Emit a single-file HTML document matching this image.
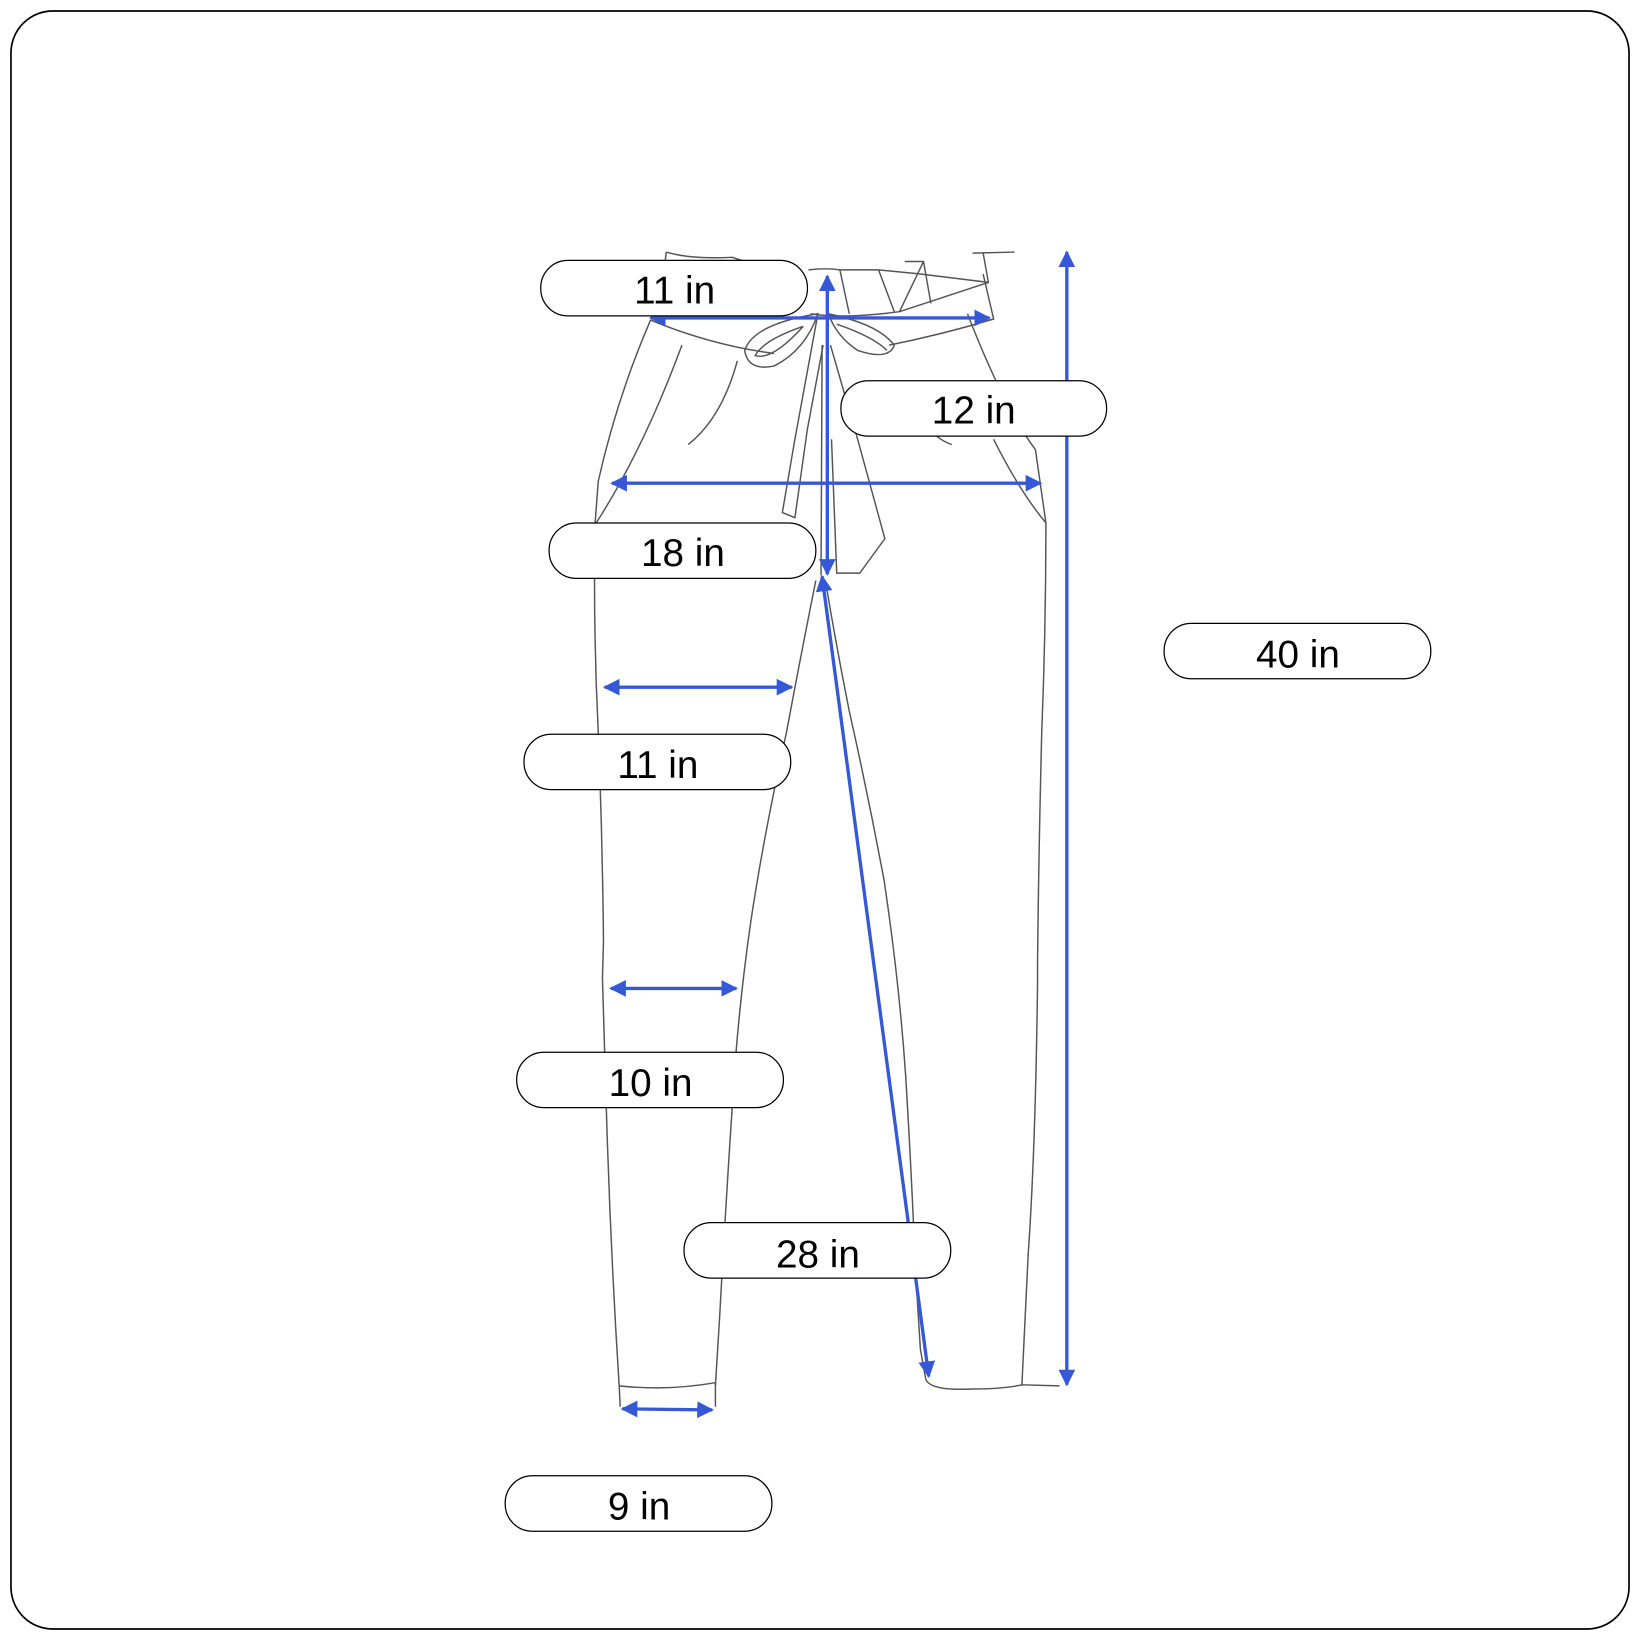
<!DOCTYPE html>
<html><head><meta charset="utf-8"><style>
html,body{margin:0;padding:0;background:#fff;}
svg{display:block;}
text{font-family:"Liberation Sans",sans-serif;font-size:37px;fill:#000;text-anchor:middle;}
</style></head><body>
<svg width="1640" height="1640" viewBox="0 0 1568 1568" xmlns="http://www.w3.org/2000/svg">
<defs>
<marker id="a" viewBox="0 0 10 10" refX="9" refY="5" markerWidth="5" markerHeight="5" orient="auto-start-reverse"><path d="M0,0 L10,5 L0,10 z" fill="#3559d6"/></marker>
</defs>
<rect x="10.5" y="10.5" width="1547" height="1547" rx="40" fill="#fff" stroke="#000" stroke-width="1.6"/>
<g fill="none" stroke="#555" stroke-width="1.4">
<path d="M637,241 Q660,248 700,246 L712,250"/>
<path d="M637,241 L635,258"/>
<path d="M773,258 Q790,256 803,258 L840,258 L880,262 L945,270 L940,242"/>
<path d="M930,242 L970,241"/>
<path d="M803,258 L812,300 M840,258 L855,298 M865,250 L883,250 L890,290 M883,250 L860,298"/>
<path d="M622,306 Q680,330 740,338 M850,330 Q900,320 950,305 L940,262"/>
<path d="M775,300 Q805,305 860,298 L945,270"/>
<path d="M782,300 Q720,310 712,335 Q715,355 740,350 Q770,335 782,300 z"/>
<path d="M768,312 Q730,325 722,340 Q738,345 768,312"/>
<path d="M792,300 Q840,310 855,330 Q850,345 820,335 Q800,322 792,300 z"/>
<path d="M800,310 Q835,322 848,335"/>
<path d="M782,300 L760,420 L748,490 L760,495 L772,410 L787,330"/>
<path d="M794,330 L820,420 L846,515 Q835,530 822,548 L800,548 L795,420"/>
<path d="M786,330 L785,550"/>
<path d="M658,425 Q690,400 705,345"/>
<path d="M910,425 Q895,420 885,405"/>
<path d="M622,306 Q590,380 572,460 L569,500 Q567,600 572,700 Q576,800 577,900 L576,935 Q578,1000 580,1070 Q584,1200 592,1325"/>
<path d="M652,330 Q615,430 570,500"/>
<path d="M780,555 Q765,630 752,700 Q730,800 718,880 Q705,970 700,1060 Q694,1150 688,1260 L684,1325"/>
<path d="M592,1325 Q638,1330 684,1322"/>
<path d="M592,1325 L593,1345 M684,1322 L684,1345"/>
<path d="M925,300 Q960,390 990,430 L1000,500 Q1000,600 996,700 Q993,820 992,920 L992,940 Q990,1100 983,1200 L977,1325"/>
<path d="M950,420 Q975,470 1000,500"/>
<path d="M977,1324 L1013,1325"/>
<path d="M790,560 Q800,620 812,680 Q830,760 845,840 Q860,940 866,1030 Q872,1130 875,1210 L880,1290 L885,1318"/>
<path d="M885,1318 Q888,1330 930,1328 Q960,1328 977,1324"/>
</g>
<g stroke="#3559d6" stroke-width="3.2" fill="none" marker-start="url(#a)" marker-end="url(#a)">
<line x1="622" y1="304" x2="946" y2="304"/>
<line x1="791" y1="264" x2="791" y2="549"/>
<line x1="585" y1="462" x2="995" y2="462"/>
<line x1="1020" y1="241" x2="1020" y2="1324"/>
<line x1="578" y1="657" x2="757" y2="657"/>
<line x1="584" y1="945" x2="704" y2="945"/>
<line x1="786" y1="551" x2="888" y2="1316"/>
<line x1="595" y1="1347" x2="681" y2="1348"/>
</g>
<g fill="#fff" stroke="#000" stroke-width="1.2">
<rect x="517" y="249" width="255" height="53" rx="26"/>
<rect x="804" y="364" width="254" height="53" rx="26"/>
<rect x="525" y="500" width="255" height="53" rx="26"/>
<rect x="1113" y="596" width="255" height="53" rx="26"/>
<rect x="501" y="702" width="255" height="53" rx="26"/>
<rect x="494" y="1006" width="255" height="53" rx="26"/>
<rect x="654" y="1169" width="255" height="53" rx="26"/>
<rect x="483" y="1411" width="255" height="53" rx="26"/>
</g>
<text x="645" y="290">11 in</text>
<text x="931" y="405">12 in</text>
<text x="653" y="541">18 in</text>
<text x="1241" y="638">40 in</text>
<text x="629" y="744">11 in</text>
<text x="622" y="1048">10 in</text>
<text x="782" y="1212">28 in</text>
<text x="611" y="1453">9 in</text>
</svg>
</body></html>
